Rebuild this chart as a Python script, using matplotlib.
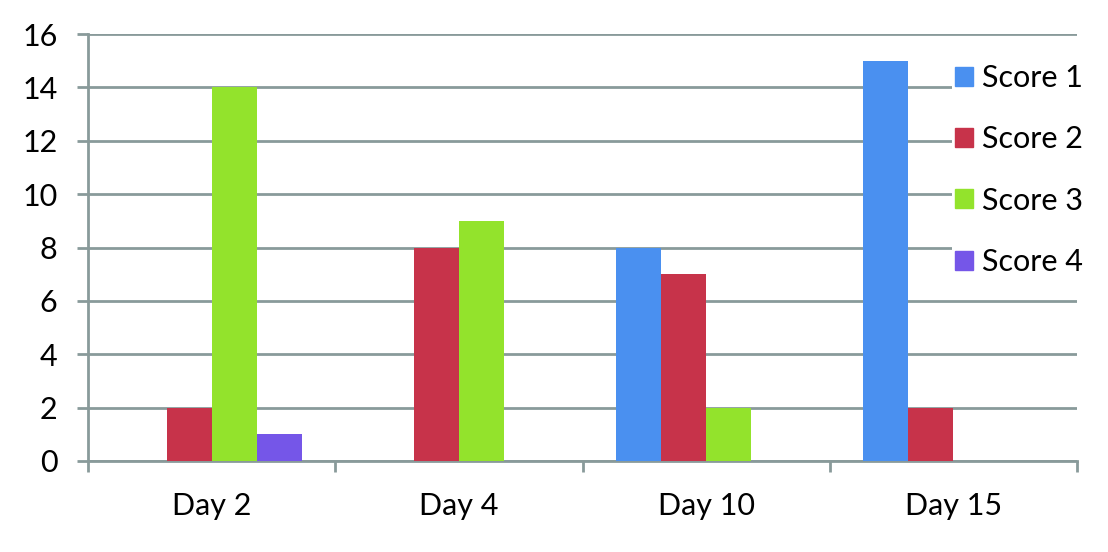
import numpy as np
import matplotlib.pyplot as plt
from matplotlib.patches import Patch

# Data
days = ['Day 2', 'Day 4', 'Day 10', 'Day 15']
series = ['Score 1', 'Score 2', 'Score 3', 'Score 4']
score1 = [0, 0, 8, 15]
score2 = [2, 8, 7, 2]
score3 = [14, 9, 2, 0]
score4 = [1, 0, 0, 0]
colors = ['#4a90f0', '#c7334a', '#93e32c', '#7556e8']

plt.rcParams['font.family'] = ['Lato', 'DejaVu Sans']
grid_col = '#899a9a'
fs = 22

fig = plt.figure(figsize=(11.08, 5.52), dpi=100)
ax = fig.add_axes([88 / 1108, 1 - 461 / 552, (1077 - 88) / 1108, (461 - 34) / 552])

x = np.arange(len(days))
w = 0.182
for i, (vals, c) in enumerate(zip([score1, score2, score3, score4], colors)):
    ax.bar(x + (i - 1.5) * w, vals, width=w, color=c, zorder=3)

ax.set_xlim(-0.5, 3.5)
ax.set_ylim(0, 16)
ax.set_yticks(range(0, 17, 2))
ax.grid(axis='y', color=grid_col, linewidth=2, zorder=0)

# category boundaries as ticks, labels in the middle
ax.set_xticks(np.arange(-0.5, 4, 1))
ax.set_xticklabels([])
ax.set_xticks(x, minor=True)
ax.set_xticklabels(days, minor=True)
ax.tick_params(axis='x', which='major', length=8, width=2, color=grid_col)
ax.tick_params(axis='x', which='minor', length=0, pad=22, labelsize=fs)
ax.tick_params(axis='y', length=8, width=2, color=grid_col, labelsize=fs, pad=14)

for s in ['top', 'right']:
    ax.spines[s].set_visible(False)
for s in ['left', 'bottom']:
    ax.spines[s].set_color(grid_col)
    ax.spines[s].set_linewidth(2)

handles = [Patch(color=c, label=s) for s, c in zip(series, colors)]
leg = fig.legend(handles=handles, loc='upper left', bbox_to_anchor=(952 / 1108, 1 - 61 / 552),
                 frameon=True, fontsize=fs, handlelength=0.58, handleheight=0.58,
                 handletextpad=0.3, labelspacing=1.09, borderpad=0.1, borderaxespad=0)
leg.get_frame().set_facecolor('white')
leg.get_frame().set_edgecolor('none')
leg.get_frame().set_alpha(1)

fig.savefig('out.png', dpi=100)
